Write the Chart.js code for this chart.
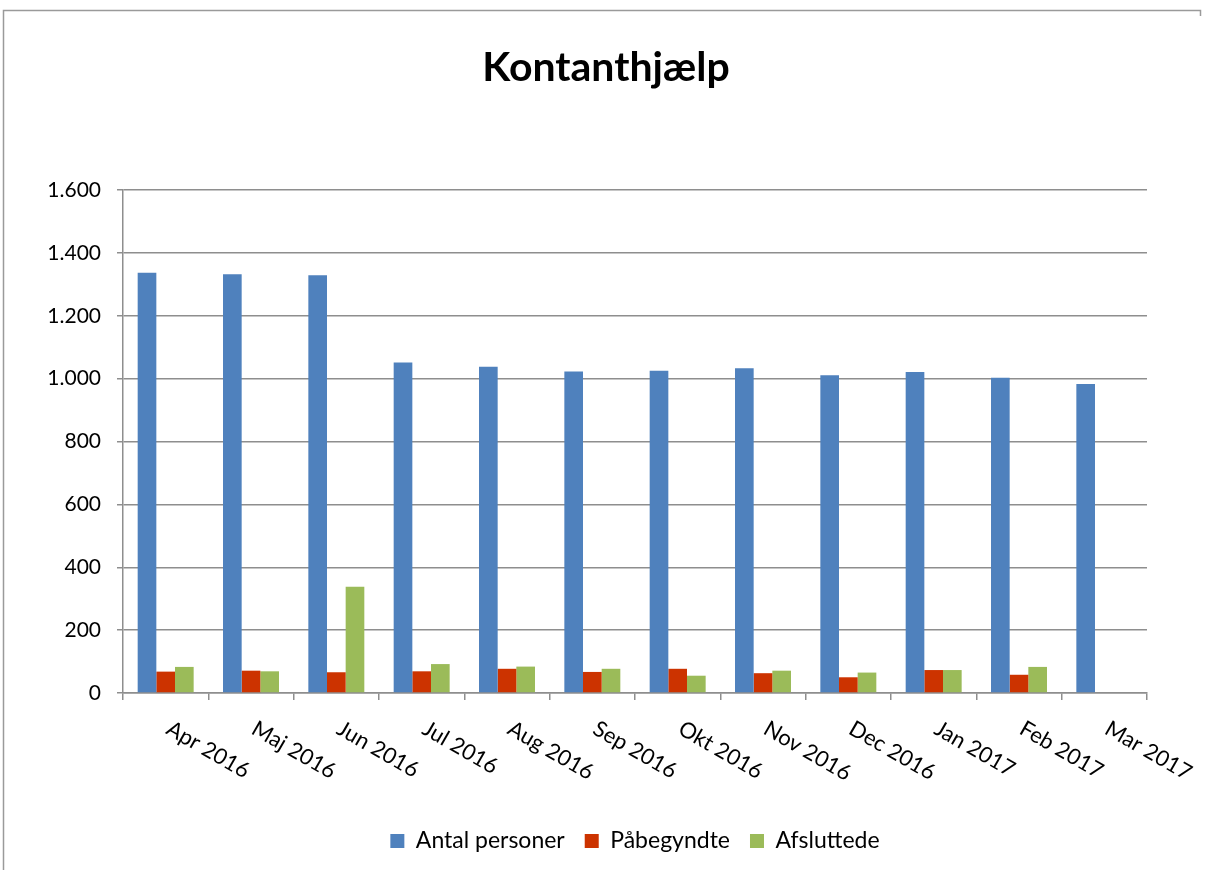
<!DOCTYPE html>
<html>
<head>
<meta charset="utf-8">
<script src="https://cdn.jsdelivr.net/npm/chart.js@4.4.1/dist/chart.umd.min.js"></script>
<style>
  html, body { margin: 0; padding: 0; background: #fff; }
  #wrap { position: relative; width: 1205px; height: 870px; }
  canvas { display: block; }
</style>
</head>
<body>
<div id="wrap"><canvas id="c" width="1205" height="870"></canvas></div>
<script>
const chartTitle = 'Kontanthjælp';
const categories = ['Apr 2016','Maj 2016','Jun 2016','Jul 2016','Aug 2016','Sep 2016','Okt 2016','Nov 2016','Dec 2016','Jan 2017','Feb 2017','Mar 2017'];
const antalPersoner = [1337, 1332, 1329, 1051, 1038, 1023, 1025, 1033, 1011, 1021, 1003, 983];
const paabegyndte   = [68, 71, 66, 69, 77, 67, 77, 63, 50, 73, 58, null];
const afsluttede    = [83, 69, 338, 92, 84, 77, 55, 71, 65, 73, 83, null];
const seriesNames = ['Antal personer', 'Påbegyndte', 'Afsluttede'];
const yTickValues = [0, 200, 400, 600, 800, 1000, 1200, 1400, 1600];

function fmtDa(n) {
  if (n >= 1000) {
    return Math.floor(n / 1000) + '.' + String(n % 1000).padStart(3, '0');
  }
  return String(n);
}

const FONT = 'Lato, "Open Sans", sans-serif';
const GRID = '#8e8e8e';

const framePlugin = {
  id: 'frame',
  beforeDraw(chart) {
    const ctx = chart.ctx;
    ctx.save();
    ctx.strokeStyle = '#9a9a9a';
    ctx.lineWidth = 1.5;
    ctx.beginPath();
    ctx.moveTo(3.5, 880);
    ctx.lineTo(3.5, 10.5);
    ctx.lineTo(1200.5, 10.5);
    ctx.lineTo(1200.5, 16);
    ctx.stroke();
    ctx.restore();
  }
};

const textPlugin = {
  id: 'texts',
  afterDraw(chart) {
    const ctx = chart.ctx;
    const xs = chart.scales.x;
    ctx.save();
    // title
    ctx.font = 'bold 41px ' + FONT;
    ctx.fillStyle = '#000';
    ctx.textAlign = 'center';
    ctx.textBaseline = 'alphabetic';
    ctx.fillText(chartTitle, 606, 81);
    // rotated category labels
    ctx.font = '22px ' + FONT;
    ctx.textAlign = 'left';
    categories.forEach((lab, i) => {
      const x = xs.getPixelForTick(i);
      ctx.save();
      ctx.translate(x - 1, 733);
      ctx.rotate(Math.PI / 6);
      ctx.fillText(lab, 0, 0);
      ctx.restore();
    });
    ctx.restore();
  }
};

new Chart(document.getElementById('c'), {
  type: 'bar',
  data: {
    labels: categories,
    datasets: [
      { label: seriesNames[0], data: antalPersoner, backgroundColor: '#4f81bd' },
      { label: seriesNames[1], data: paabegyndte, backgroundColor: '#cc3300' },
      { label: seriesNames[2], data: afsluttede, backgroundColor: '#9bbb59' }
    ]
  },
  options: {
    responsive: false,
    animation: false,
    devicePixelRatio: 1,
    layout: { padding: { left: 0, right: 58, top: 190, bottom: 7.5 } },
    datasets: { bar: { categoryPercentage: 0.656, barPercentage: 1.0, borderWidth: 0 } },
    plugins: {
      title: { display: false },
      legend: {
        display: true,
        position: 'bottom',
        fullSize: false,
        labels: {
          color: '#000',
          font: { family: FONT, size: 23 },
          boxWidth: 14,
          boxHeight: 14,
          padding: 20
        }
      },
      tooltip: { enabled: false }
    },
    scales: {
      x: {
        grid: { display: true, drawOnChartArea: false, drawTicks: true, tickLength: 7, color: GRID, lineWidth: 1.5, offset: true },
        border: { display: true, color: GRID, width: 1.5 },
        ticks: { display: false },
        afterFit(scale) { scale.height = 116.5; }
      },
      y: {
        min: 0,
        max: 1600,
        afterBuildTicks(scale) { scale.ticks = yTickValues.map(v => ({ value: v })); },
        grid: { display: true, drawOnChartArea: true, drawTicks: true, tickLength: 6, color: GRID, lineWidth: 1.5 },
        border: { display: true, color: GRID, width: 1.5 },
        ticks: {
          color: '#000',
          font: { family: FONT, size: 21 },
          padding: 16,
          callback: (v) => fmtDa(v)
        },
        afterFit(scale) { scale.width = 123; }
      }
    }
  },
  plugins: [framePlugin, textPlugin]
});
</script>
</body>
</html>
